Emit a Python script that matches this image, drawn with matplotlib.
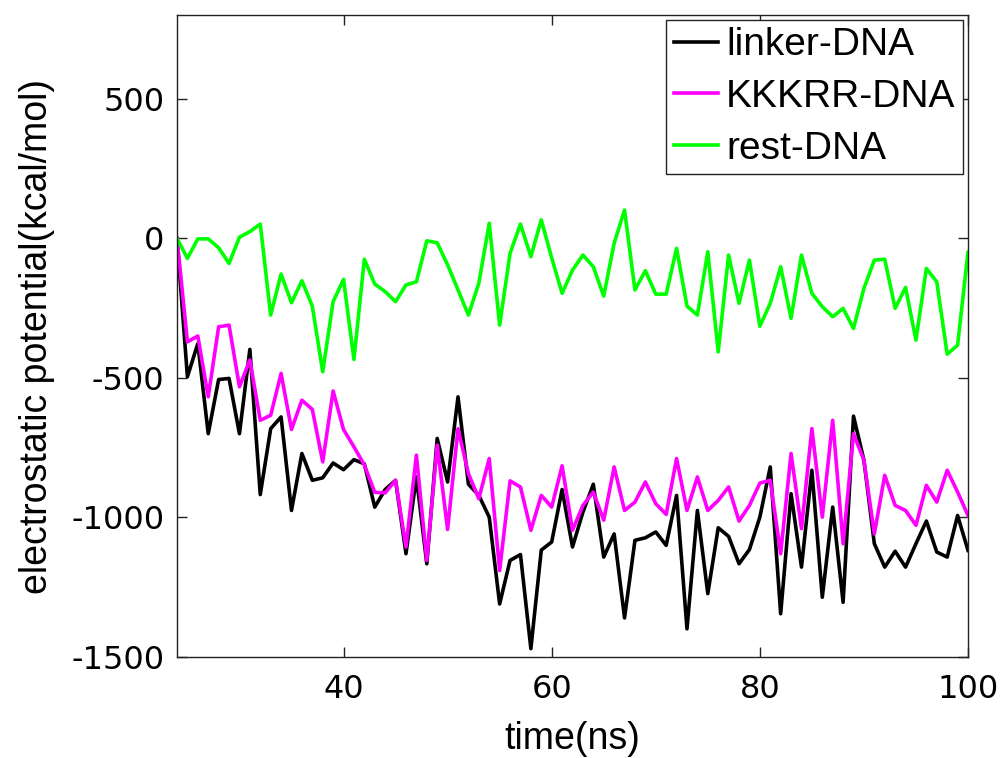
import numpy as np
import matplotlib
matplotlib.use("Agg")
import matplotlib.pyplot as plt

plt.rcParams['axes.unicode_minus'] = False

# time axis (ns), one sample per ns
time = list(range(24, 101))

linker_dna = [0, -496, -377, -700, -506, -502, -700, -398, -918, -682,
              -640, -975, -771, -867, -858, -805, -829, -793, -808, -963,
              -900, -867, -1130, -855, -1166, -717, -873, -568, -881, -921,
              -999, -1310, -1154, -1133, -1470, -1117, -1088, -900, -1106, -981,
              -881, -1142, -1059, -1360, -1082, -1073, -1052, -1100, -921, -1399,
              -975, -1273, -1037, -1068, -1166, -1115, -999, -819, -1345, -915,
              -1178, -831, -1286, -963, -1304, -637, -795, -1094, -1178, -1121,
              -1178, -1094, -1013, -1124, -1142, -993, -1118]

kkkrr_dna = [0, -371, -350, -568, -317, -311, -532, -436, -652, -634,
             -484, -685, -580, -613, -801, -547, -685, -747, -812, -910,
             -912, -867, -1106, -777, -1154, -741, -1043, -682, -843, -933,
             -789, -1190, -869, -891, -1046, -921, -963, -815, -1046, -957,
             -909, -1010, -819, -975, -945, -873, -951, -989, -789, -975,
             -855, -975, -939, -891, -1013, -957, -877, -867, -1130, -771,
             -1040, -682, -999, -652, -1094, -700, -795, -1059, -849, -957,
             -975, -1028, -885, -945, -831, -909, -993]

rest_dna = [0, -72, -2, -2, -34, -90, 4, 24, 51, -275,
            -128, -231, -152, -243, -478, -227, -147, -434, -75, -164,
            -191, -227, -167, -156, -9, -16, -95, -185, -275, -161,
            54, -311, -54, 51, -66, 66, -70, -197, -114, -60,
            -102, -207, -18, 101, -185, -116, -200, -200, -36, -243,
            -275, -48, -407, -60, -233, -78, -315, -233, -102, -287,
            -60, -197, -245, -281, -251, -323, -179, -78, -75, -251,
            -176, -365, -108, -156, -415, -383, -50]

fig = plt.figure(figsize=(10.03, 7.58), dpi=100)
ax = fig.add_axes([177 / 1003, 1 - 657 / 758, (968 - 177) / 1003, (657 - 15) / 758])

lw = 2.6
ax.plot(time, linker_dna, color='#000000', lw=lw, label='linker-DNA')
ax.plot(time, kkkrr_dna, color='#ff00ff', lw=lw, label='KKKRR-DNA')
ax.plot(time, rest_dna, color='#00ff00', lw=lw, label='rest-DNA')

ax.set_xlim(24, 100)
ax.set_ylim(-1500, 800)
ax.set_xticks([40, 60, 80, 100])
ax.set_yticks([-1500, -1000, -500, 0, 500])

for s in ax.spines.values():
    s.set_linewidth(1.0)
    s.set_color('#222222')

ax.tick_params(direction='in', length=7, width=1, color='#222222',
               top=True, right=True, labelsize=23)
ax.tick_params(axis='x', pad=12)
ax.tick_params(axis='y', pad=9)
for lab in ax.get_xticklabels() + ax.get_yticklabels():
    lab.set_family('DejaVu Sans')

ax.set_xlabel('time(ns)', fontsize=27, family='Liberation Sans')
ax.set_ylabel('electrostatic potential(kcal/mol)', fontsize=27, family='Liberation Sans')
ax.xaxis.set_label_coords(0.5, -0.10)
ax.yaxis.set_label_coords(-0.154, 0.5)

leg = ax.legend(loc='upper right', prop={'family': 'Liberation Sans', 'size': 28},
                fancybox=False, framealpha=1, edgecolor='#222222',
                handlelength=1.15, handletextpad=0.2, labelspacing=0.4,
                borderpad=0.2, borderaxespad=0.12)
leg.get_frame().set_linewidth(1.0)

fig.savefig('out.png', dpi=100)
